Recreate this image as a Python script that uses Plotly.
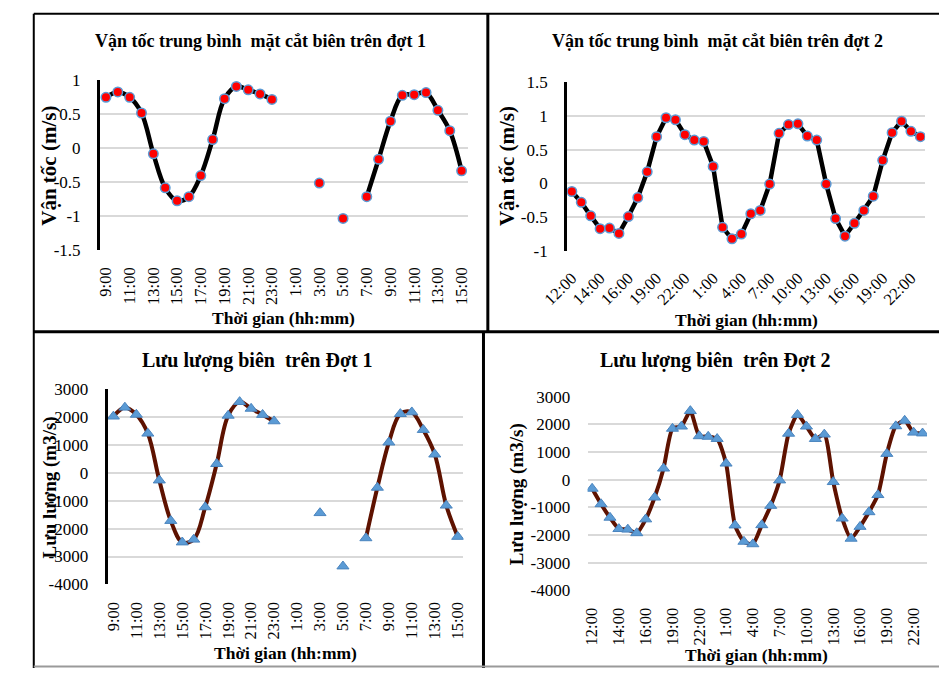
import plotly.graph_objects as go

W, H = 943, 678

# ---------------- data ----------------
# Đợt 1 (hourly, 9:00 day 1 -> 15:00 day 2)
times1 = ["9:00", "10:00", "11:00", "12:00", "13:00", "14:00", "15:00", "16:00",
          "17:00", "18:00", "19:00", "20:00", "21:00", "22:00", "23:00",
          "0:00", "1:00", "2:00", "3:00", "4:00", "5:00", "6:00", "7:00",
          "8:00", "9:00", "10:00", "11:00", "12:00", "13:00", "14:00", "15:00"]
vel1 = [0.74, 0.82, 0.74, 0.51, -0.09, -0.59, -0.78, -0.72, -0.41, 0.12, 0.72,
        0.90, 0.85, 0.79, 0.71, None, None, None, -0.52, None, -1.04, None,
        -0.72, -0.17, 0.39, 0.77, 0.78, 0.81, 0.55, 0.25, -0.34]
q1 = [2020, 2340, 2085, 1410, -270, -1720, -2490, -2390, -1230, 320, 2050,
      2540, 2300, 2080, 1850, None, None, None, -1440, None, -3350, None,
      -2340, -530, 1090, 2110, 2170, 1540, 660, -1170, -2290]

# Đợt 2
times2 = ["12:00", "13:00", "13:30", "14:00", "15:00", "15:30", "16:00", "17:00",
          "18:00", "19:00", "20:00", "21:00", "22:00", "23:00", "0:00", "1:00",
          "2:00", "3:00", "4:00", "5:00", "6:00", "7:00", "8:00", "9:00",
          "10:00", "11:00", "12:00", "13:00", "14:00", "15:00", "16:00", "17:00",
          "18:00", "19:00", "20:00", "21:00", "22:00", "23:00"]
vel2 = [-0.12, -0.28, -0.48, -0.67, -0.66, -0.74, -0.49, -0.21, 0.17, 0.69,
        0.97, 0.94, 0.72, 0.64, 0.62, 0.25, -0.65, -0.82, -0.75, -0.45,
        -0.40, -0.01, 0.74, 0.87, 0.88, 0.70, 0.64, -0.01, -0.52, -0.78,
        -0.59, -0.40, -0.19, 0.34, 0.75, 0.92, 0.77, 0.69]
q2 = [-320, -880, -1370, -1780, -1800, -1930, -1430, -640, 410, 1850,
      1930, 2490, 1580, 1560, 1480, 590, -1650, -2240, -2330, -1640,
      -940, -20, 1670, 2350, 1930, 1480, 1640, -80, -1400, -2130,
      -1700, -1170, -550, 940, 1940, 2140, 1710, 1680]

vel1_ticks = [1, 0.5, 0, -0.5, -1, -1.5]
vel1_text = ["1", "0.5", "0", "-0.5", "-1", "-1.5"]
vel2_ticks = [1.5, 1, 0.5, 0, -0.5, -1]
vel2_text = ["1.5", "1", "0.5", "0", "-0.5", "-1"]
q_ticks = [3000, 2000, 1000, 0, -1000, -2000, -3000, -4000]
q_text = ["3000", "2000", "1000", "0", "-1000", "-2000", "-3000", "-4000"]

titles = ["Vận tốc trung bình  mặt cắt biên trên đợt 1",
          "Vận tốc trung bình  mặt cắt biên trên đợt 2",
          "Lưu lượng biên  trên Đợt 1",
          "Lưu lượng biên  trên Đợt 2"]
ytitles = ["Vận tốc (m/s)", "Vận tốc (m/s)", "Lưu lượng (m3/s)", "Lưu lượng (m3/s)"]
xtitle = "Thời gian (hh:mm)"

# ---------------- helpers ----------------
FONT = "Liberation Serif"


def px_x(v):
    return v / W


def px_y(v):
    return 1 - v / H


idx1 = list(range(len(times1)))
idx2 = list(range(len(times2)))

fig = go.Figure()

vel_line = dict(color="black", width=4.5)
q_line = dict(color="#5E1200", width=4)
circ = dict(symbol="circle", size=9.5, color="#FF0000",
            line=dict(color="#5B9BD5", width=1.5))
tri = dict(symbol="triangle-up", size=10.5, color="#5B9BD5",
           line=dict(color="#4A84BE", width=1))

fig.add_trace(go.Scatter(x=idx1, y=vel1, mode="lines+markers",
                         line=dict(shape="spline", smoothing=1, **vel_line),
                         marker=circ, connectgaps=False,
                         xaxis="x", yaxis="y", showlegend=False))
fig.add_trace(go.Scatter(x=idx2, y=vel2, mode="lines+markers",
                         line=dict(shape="linear", **vel_line),
                         marker=circ, xaxis="x2", yaxis="y2", showlegend=False))
fig.add_trace(go.Scatter(x=idx1, y=q1, mode="lines+markers",
                         line=dict(shape="spline", smoothing=1, **q_line),
                         marker=tri, connectgaps=False,
                         xaxis="x3", yaxis="y3", showlegend=False))
fig.add_trace(go.Scatter(x=idx2, y=q2, mode="lines+markers",
                         line=dict(shape="spline", smoothing=0.6, **q_line),
                         marker=tri, xaxis="x4", yaxis="y4", showlegend=False))

tickfont = dict(family=FONT, size=17, color="black")
xtickfont = dict(family=FONT, size=16.5, color="black")


def yax(dom, anchor, tv, tt, rng, showline):
    return dict(domain=dom, anchor=anchor, range=rng, tickmode="array",
                tickvals=tv, ticktext=tt, showgrid=True, gridcolor="#D9D9D9",
                gridwidth=1.5, zeroline=False, showline=showline,
                linecolor="black", linewidth=3, ticks="outside", ticklen=13,
                tickcolor="rgba(0,0,0,0)", tickfont=tickfont)


def xax(dom, anchor, idx, labels, step, angle):
    return dict(domain=dom, anchor=anchor, range=[-0.5, len(idx) - 0.5],
                tickmode="array", tickvals=idx[::step], ticktext=labels[::step],
                tickangle=angle, showgrid=False, zeroline=False, showline=False,
                ticks="outside", ticklen=10, tickcolor="rgba(0,0,0,0)",
                tickfont=xtickfont)


fig.update_layout(
    width=W, height=H, margin=dict(l=0, r=0, t=0, b=0),
    paper_bgcolor="white", plot_bgcolor="white",
    xaxis=xax([px_x(75.5), px_x(455.5)], "y", idx1, times1, 2, -90),
    yaxis=yax([px_y(247.7), px_y(72.7)], "x", vel1_ticks, vel1_text, [-1.5, 1], True),
    xaxis2=xax([px_x(558.5), px_x(928.6)], "y2", idx2, times2, 3, -45),
    yaxis2=yax([px_y(249), px_y(75)], "x2", vel2_ticks, vel2_text, [-1, 1.5], True),
    xaxis3=xax([px_x(83.4), px_x(451.3)], "y3", idx1, times1, 2, -90),
    yaxis3=yax([px_y(592), px_y(391)], "x3", q_ticks, q_text, [-4000, 3000], True),
    xaxis4=xax([px_x(579.7), px_x(930.6)], "y4", idx2, times2, 3, -90),
    yaxis4=yax([px_y(598), px_y(399)], "x4", q_ticks, q_text, [-4000, 3000], False),
)

ann = []


def add_text(text, x, y, size, angle=0):
    ann.append(dict(text="<b>" + text + "</b>", x=px_x(x), y=px_y(y),
                    xref="paper", yref="paper", showarrow=False,
                    xanchor="center", yanchor="middle", textangle=angle,
                    font=dict(family=FONT, size=size, color="black")))


add_text(titles[0], 241, 33, 18)
add_text(titles[1], 714, 33, 18)
add_text(titles[2], 238, 362, 20)
add_text(titles[3], 712, 362, 20)
add_text(ytitles[0], 23, 161, 21, -90)
add_text(ytitles[1], 497, 162, 21, -90)
add_text(ytitles[2], 24, 492, 19, -90)
add_text(ytitles[3], 507, 499, 19, -90)
add_text(xtitle, 265, 318, 17.5)
add_text(xtitle, 744, 320, 17.5)
add_text(xtitle, 267, 663, 17.5)
add_text(xtitle, 754, 665, 17.5)
fig.update_layout(annotations=ann)

shapes = []


def seg(x0, y0, x1, y1, w=2, c="black"):
    shapes.append(dict(type="line", xref="paper", yref="paper",
                       x0=px_x(x0), y0=px_y(y0), x1=px_x(x1), y1=px_y(y1),
                       line=dict(color=c, width=w)))


seg(7, 5, 7, 678, 2)
seg(7, 5, 943, 5, 2)
seg(476.5, 5, 476.5, 332, 3)
seg(7, 332, 943, 332, 3)
seg(472, 332, 472, 678, 3)
seg(7, 676.5, 943, 676.5, 2, "#9a9a9a")
fig.update_layout(shapes=shapes)

fig.write_html("out.html")
